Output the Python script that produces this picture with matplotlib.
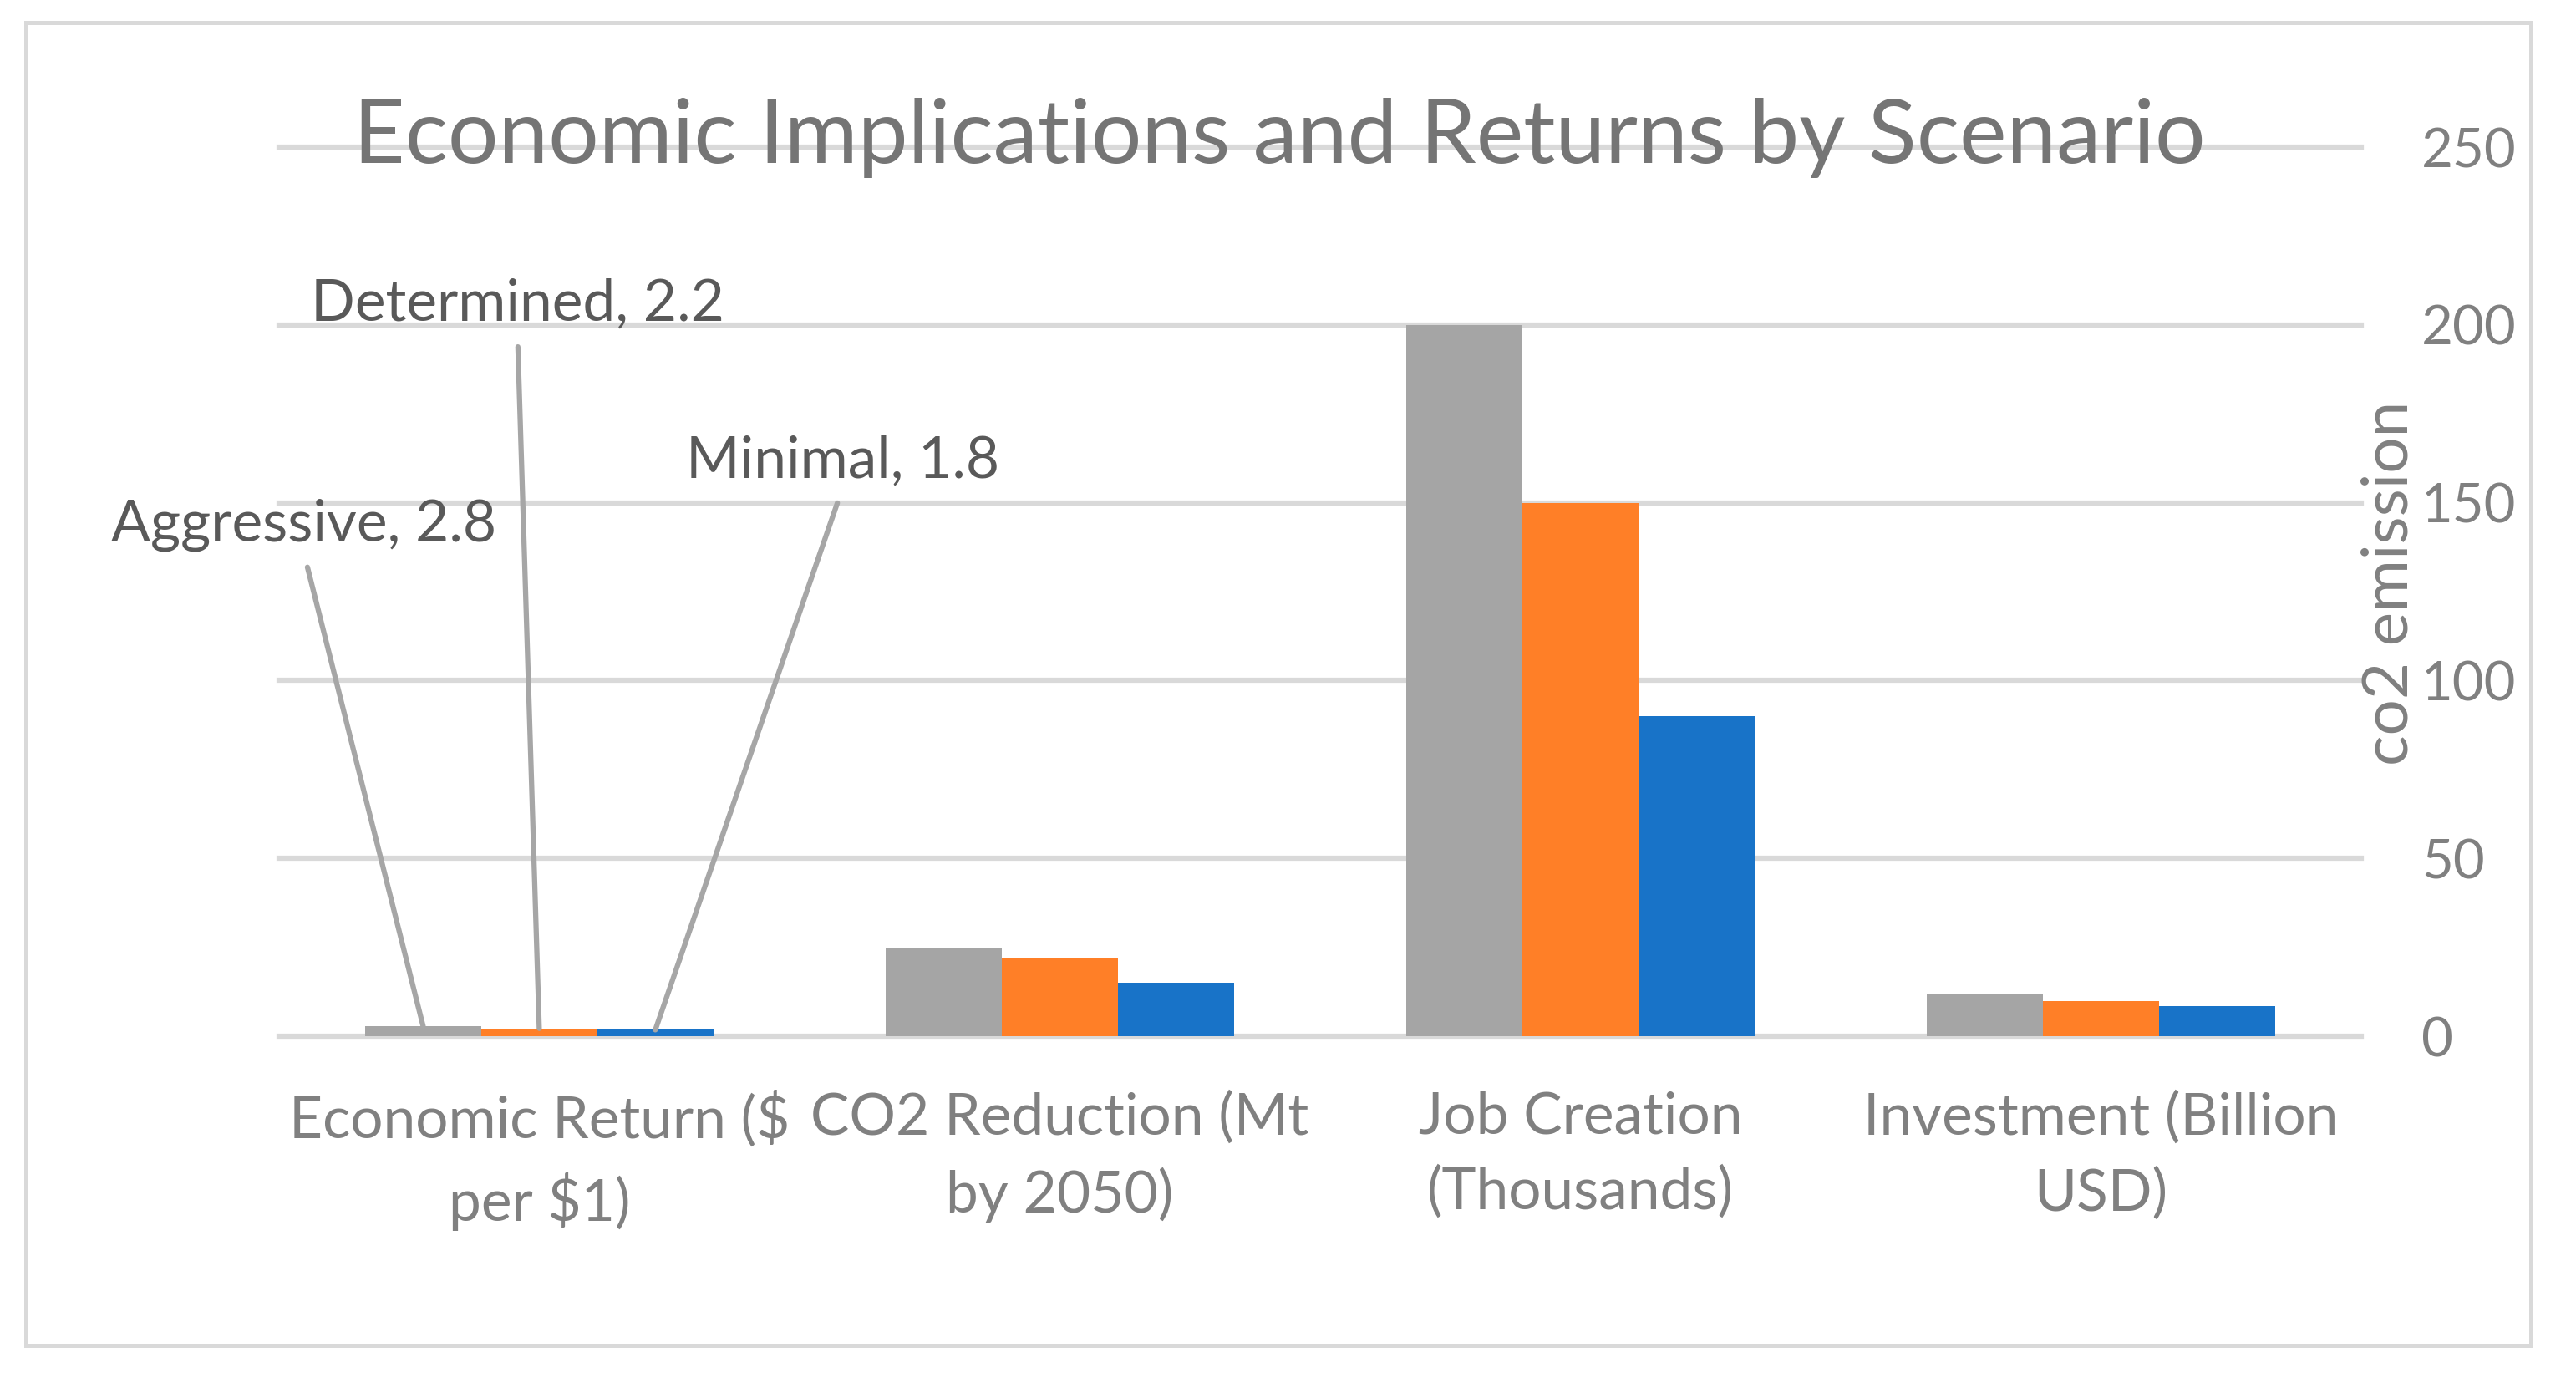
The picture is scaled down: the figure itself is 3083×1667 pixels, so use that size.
import matplotlib.pyplot as plt
import matplotlib.patches as patches
import numpy as np

# Data
categories = ["Economic Return (\\$\nper \\$1)", "CO2 Reduction (Mt\nby 2050)",
              "Job Creation\n(Thousands)", "Investment (Billion\nUSD)"]
scenarios = ["Aggressive", "Determined", "Minimal"]
aggressive = [2.8, 25, 200, 12]
determined = [2.2, 22, 150, 10]
minimal = [1.8, 15, 90, 8.5]
y_ticks = [0, 50, 100, 150, 200, 250]

colors = ['#A5A5A5', '#FF7F27', '#1873C8']

plt.rcParams['font.family'] = ['Lato', 'DejaVu Sans']

fig = plt.figure(figsize=(30.83, 16.67), dpi=100)
ax = fig.add_axes([0.1083, 0.2561, 0.8083, 0.6383])

x = np.arange(len(categories))
bar_width = 0.223
series = [aggressive, determined, minimal]
for i, (vals, name) in enumerate(zip(series, scenarios)):
    ax.bar(x + (i - 1) * bar_width, vals, bar_width, color=colors[i], label=name, zorder=3)

ax.set_xlim(-0.5, 3.5)
ax.set_ylim(0, 250)
ax.set_yticks(y_ticks)
ax.set_xticks(x)
ax.set_xticklabels(categories, fontsize=50, color='#808080', linespacing=1.5)

ax.yaxis.tick_right()
ax.tick_params(axis='y', length=0, pad=52, labelsize=47, labelcolor='#808080')
ax.tick_params(axis='x', length=0, pad=47)

ax.grid(axis='y', color='#D9D9D9', linewidth=4.5, zorder=0)
for line in ax.get_ygridlines():
    line.set_clip_on(False)
ax.set_axisbelow(True)
for s in ax.spines.values():
    s.set_visible(False)

ax.set_ylabel('co2 emission', fontsize=55, color='#808080', rotation=90,
              ha='center', va='center')
ax.yaxis.set_label_coords(1.0135, 0.51)

# Data labels for the first category
label_pos = [(-0.453, 143.8), (-0.042, 205.8), (0.583, 161.7)]
for i, name in enumerate(scenarios):
    val = series[i][0]
    ax.annotate(f"{name}, {val}", xy=(x[0] + (i - 1) * bar_width, val),
                xytext=label_pos[i], textcoords='data',
                ha='center', va='center', fontsize=50, color='#595959',
                arrowprops=dict(arrowstyle='-', color='#A6A6A6', lw=4.5,
                                relpos=(0.5, 0), shrinkA=12, shrinkB=0),
                zorder=5)

fig.text(0.4966, 0.901, 'Economic Implications and Returns by Scenario',
         ha='center', va='center', fontsize=77, color='#757575', zorder=10)

fig.patches.append(patches.Rectangle((0.01, 0.0342), 0.9724, 0.9496,
                                     transform=fig.transFigure, fill=False,
                                     edgecolor='#D9D9D9', linewidth=3.6))

fig.savefig('out.png', dpi=100)
